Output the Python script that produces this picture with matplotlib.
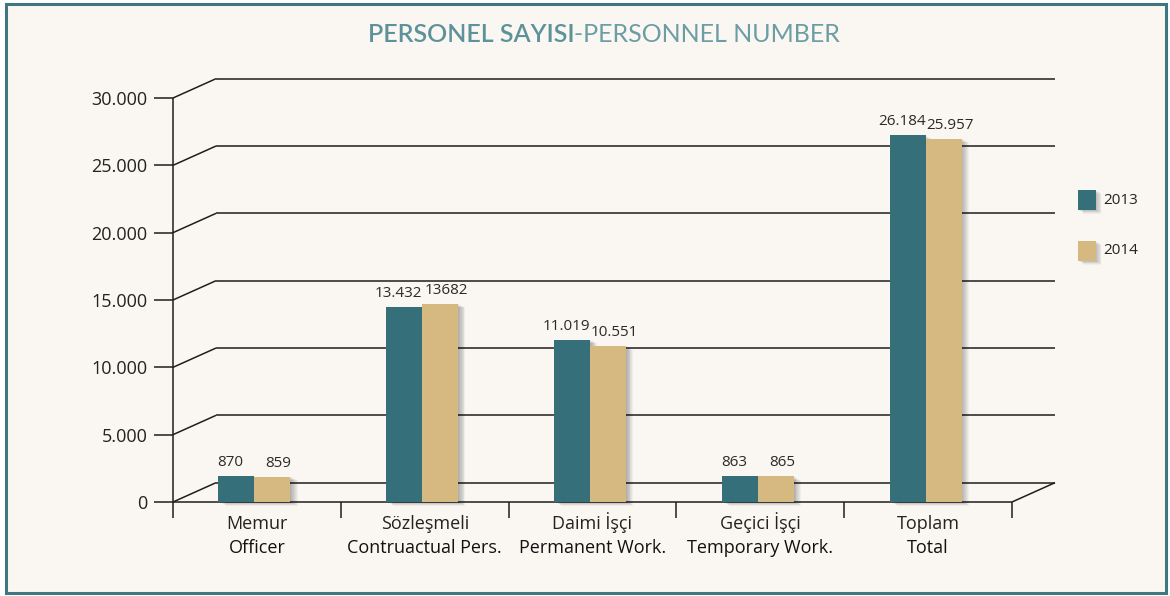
import matplotlib
matplotlib.use("Agg")
import matplotlib.pyplot as plt
from matplotlib.patches import Rectangle
from matplotlib.transforms import Affine2D
import numpy as np

# ---- data ----
categories_tr = ["Memur", "Sözleşmeli", "Daimi İşçi", "Geçici İşçi", "Toplam"]
categories_en = ["Officer", "Contruactual Pers.", "Permanent Work.", "Temporary Work.", "Total"]
values_2013 = [870, 13432, 11019, 863, 26184]
values_2014 = [859, 13682, 10551, 865, 25957]
labels_2013 = ["870", "13.432", "11.019", "863", "26.184"]
labels_2014 = ["859", "13682", "10.551", "865", "25.957"]
series_names = ["2013", "2014"]
y_ticks = [0, 5000, 10000, 15000, 20000, 25000, 30000]
y_tick_labels = ["0", "5.000", "10.000", "15.000", "20.000", "25.000", "30.000"]

C2013 = "#356F79"
C2014 = "#D6B981"
BG = "#FAF7F2"
BORDER = "#3F7681"
LINE = "#1E1E1E"
TXT = "#222222"
FONT = "Open Sans"

W, H, DPI = 1170, 596, 100
fig = plt.figure(figsize=(W / DPI, H / DPI), dpi=DPI, facecolor="white")
# pixel transform (origin top-left)
px = Affine2D().scale(1.0 / DPI, -1.0 / DPI).translate(0, H / DPI) + fig.dpi_scale_trans

# frame
fig.patches.append(Rectangle((6, 4), 1160, 589, transform=px, facecolor=BG,
                             edgecolor=BORDER, linewidth=2.2, zorder=-5))

# title
t1 = fig.text(0, 0, "PERSONEL SAYISI", transform=px, fontsize=18, family="Lato",
              weight="semibold", color="#5E929A")
t2 = fig.text(0, 0, "-PERSONNEL NUMBER", transform=px, fontsize=18, family="Lato",
              weight="normal", color="#6C9DA4")
fig.canvas.draw()
r = fig.canvas.get_renderer()
w1 = t1.get_window_extent(r).width
w2 = t2.get_window_extent(r).width
x0 = 604 - (w1 + w2) / 2
t1.set_position((x0, 42))
t2.set_position((x0 + w1, 42))

# axes = front plane
ax = fig.add_axes([173 / W, (H - 502) / H, 839 / W, 404 / H])
ax.set_xlim(0, 5)
ax.set_ylim(0, 30000)
ax.patch.set_visible(False)
for s in ax.spines.values():
    s.set_visible(False)

DX = 43 / (839 / 5)          # depth offset in category units
DY = 19.3 * 5000 / 67.33     # depth offset in value units
LIFT = 0.72 * DY

ax.set_yticks(y_ticks, y_tick_labels)
ax.set_xticks(range(6), [""] * 6)
ax.tick_params(axis="y", length=14, width=1.1, color=LINE, pad=4.5,
               labelsize=13, labelcolor=TXT)
ax.tick_params(axis="x", length=11.5, width=1.1, color=LINE)
for lab in ax.get_yticklabels():
    lab.set_family(FONT)

lk = dict(color=LINE, lw=1.1, clip_on=False, zorder=1, solid_capstyle="butt")
ax.plot([0, 0], [0, y_ticks[-1]], **lk)
ax.plot([0, 5], [0, 0], **lk)
for v in y_ticks:
    ax.plot([DX, 5 + DX], [v + DY, v + DY], **lk)
    ax.plot([0, DX], [v, v + DY], **lk)
ax.plot([5, 5 + DX], [0, DY], **lk)

# bars
n = len(categories_tr)
bw = 36 / (839 / 5)
centers = np.arange(n) + 0.485
for vals, col, off, labs, ldx in [(values_2013, C2013, -bw / 2, labels_2013, -6),
                                  (values_2014, C2014, bw / 2, labels_2014, 6)]:
    heights = np.array(vals) + LIFT
    xs = centers + off
    # soft shadow
    for k in range(1, 9):
        tr = ax.transData + Affine2D().translate(k * 0.9, -k * 0.45)
        for x, h in zip(xs, heights):
            ax.add_patch(Rectangle((x - bw / 2, 0), bw, h, transform=tr, facecolor="black",
                                   alpha=0.04, linewidth=0, zorder=2, clip_on=False))
    ax.bar(xs, heights, width=bw, color=col, zorder=3, clip_on=False, linewidth=0)
    for x, h, lab in zip(xs, heights, labs):
        ax.annotate(lab, (x, h), xytext=(ldx * 0.72, 7.2), textcoords="offset points",
                    ha="center", va="baseline", fontsize=11, family=FONT, color="#2A2A2A",
                    zorder=5)

# category labels
for i in range(n):
    ax.annotate(categories_tr[i], (i + 0.5, 0), xytext=(0, -19.7), textcoords="offset points",
                ha="center", va="baseline", fontsize=13, family=FONT, color=TXT)
    ax.annotate(categories_en[i], (i + 0.5, 0), xytext=(0, -36.5), textcoords="offset points",
                ha="center", va="baseline", fontsize=13, family=FONT, weight=500, color="#111111")

# legend
for j, (name, col) in enumerate(zip(series_names, [C2013, C2014])):
    y = 190 + j * 51
    for k in range(1, 7):
        fig.patches.append(Rectangle((1078 + k * 0.9, y + k * 0.6), 18, 20, transform=px,
                                     facecolor="black", alpha=0.04, linewidth=0, zorder=1))
    fig.patches.append(Rectangle((1078, y), 18, 20, transform=px, facecolor=col,
                                 linewidth=0, zorder=2))
    fig.text(1103, y + 10, name, transform=px, fontsize=11, family=FONT, color=TXT,
             va="center", ha="left")

fig.savefig("out.png", dpi=DPI, facecolor="white")
